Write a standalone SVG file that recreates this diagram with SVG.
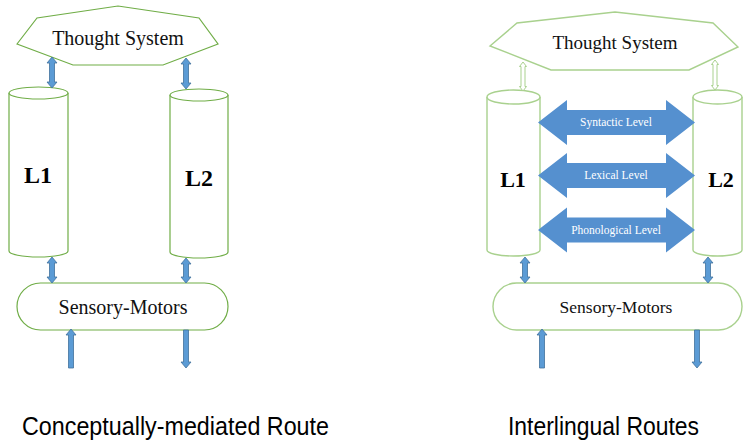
<svg xmlns="http://www.w3.org/2000/svg" width="743" height="443" viewBox="0 0 743 443">
  <style>
    .node-l { fill: #ffffff; stroke: #70ad47; stroke-width: 1.2; }
    .node-r { fill: #ffffff; stroke: #a9d18e; stroke-width: 1.4; }
    .arrow { fill: #5b9bd5; stroke: #41719c; stroke-width: 0.8; }
    .arrow-hollow { fill: #ffffff; stroke: #a9d18e; stroke-width: 1; }
    .big-arrow { fill: #5590cf; stroke: none; }
    .serif { font-family: "Liberation Serif", "Times New Roman", serif; fill: #111111; }
    .lang { font-family: "Liberation Serif", "Times New Roman", serif; font-weight: bold; fill: #000000; }
    .level { font-family: "Liberation Serif", "Times New Roman", serif; font-size: 11.5px; fill: #ffffff; }
    .caption { font-family: "Liberation Sans", Arial, sans-serif; font-size: 25px; fill: #000000; }
  </style>
  <rect width="743" height="443" fill="#ffffff"/>

  <!-- Left panel: conceptually-mediated route -->
  <g id="left-thought">
    <polygon class="node-l" points="17,44 37,18 118,6 199,18 218,44 163,65 73,65"/>
    <text class="serif" x="118" y="45" font-size="20" text-anchor="middle">Thought System</text>
  </g>
  <g id="left-l1">
    <path class="node-l" d="M9,93 L9,251 A29.5,6 0 0 0 68,251 L68,93"/>
    <ellipse class="node-l" cx="38.5" cy="93" rx="29.5" ry="6"/>
    <text class="lang" x="38" y="183" font-size="24" text-anchor="middle">L1</text>
  </g>
  <g id="left-l2">
    <path class="node-l" d="M170,95 L170,252 A29,6 0 0 0 228,252 L228,95"/>
    <ellipse class="node-l" cx="199" cy="95" rx="29" ry="6"/>
    <text class="lang" x="199" y="186" font-size="24" text-anchor="middle">L2</text>
  </g>
  <g id="left-sensory">
    <rect class="node-l" x="17" y="283" width="211" height="47" rx="23.5"/>
    <text class="serif" x="123" y="314" font-size="20" text-anchor="middle">Sensory-Motors</text>
  </g>

  <!-- Right panel: interlingual routes -->
  <g id="right-thought">
    <polygon class="node-r" points="490,46 517,23 615,12 713,23 738,47 689,70 551,70"/>
    <text class="serif" x="615" y="49" font-size="19" text-anchor="middle">Thought System</text>
  </g>
  <g id="right-l1">
    <path class="node-r" d="M487,97 L487,250 A26.5,6 0 0 0 540,250 L540,97"/>
    <ellipse class="node-r" cx="513.5" cy="97" rx="26.5" ry="7"/>
    <text class="lang" x="513" y="187" font-size="22" text-anchor="middle">L1</text>
  </g>
  <g id="right-l2">
    <path class="node-r" d="M693,97 L693,250 A24.5,6 0 0 0 742,250 L742,97"/>
    <ellipse class="node-r" cx="717.5" cy="97" rx="24.5" ry="7"/>
    <text class="lang" x="721" y="187" font-size="22" text-anchor="middle">L2</text>
  </g>
  <g id="right-sensory">
    <rect class="node-r" x="493" y="283" width="249" height="47" rx="23.5"/>
    <text class="serif" x="616" y="313" font-size="17.5" text-anchor="middle">Sensory-Motors</text>
  </g>

  <!-- Connectors -->
  <g id="connectors">
    <!-- left panel -->
    <path class="arrow" d="M52,57 L57,63 L54.5,63 L54.5,82 L57,82 L52,88 L47,82 L49.5,82 L49.5,63 L47,63 Z"/>
    <path class="arrow" d="M186,58 L191,64 L188.5,64 L188.5,83 L191,83 L186,89 L181,83 L183.5,83 L183.5,64 L181,64 Z"/>
    <path class="arrow" d="M52,257 L57,263 L54.5,263 L54.5,277 L57,277 L52,283 L47,277 L49.5,277 L49.5,263 L47,263 Z"/>
    <path class="arrow" d="M186,258 L191,264 L188.5,264 L188.5,277 L191,277 L186,283 L181,277 L183.5,277 L183.5,264 L181,264 Z"/>
    <path class="arrow" d="M71,329 L76,335 L73.5,335 L73.5,368 L68.5,368 L68.5,335 L66,335 Z"/>
    <path class="arrow" d="M183.5,330 L188.5,330 L188.5,362 L191,362 L186,368 L181,362 L183.5,362 Z"/>

    <!-- right panel -->
    <path class="arrow-hollow" d="M523,62 L526.5,66.5 L525,66.5 L525,86.5 L526.5,86.5 L523,91 L519.5,86.5 L521,86.5 L521,66.5 L519.5,66.5 Z"/>
    <path class="arrow-hollow" d="M715,60 L718.5,64.5 L717,64.5 L717,85.5 L718.5,85.5 L715,90 L711.5,85.5 L713,85.5 L713,64.5 L711.5,64.5 Z"/>
    <path class="arrow" d="M525,257 L530,263 L527.5,263 L527.5,277 L530,277 L525,283 L520,277 L522.5,277 L522.5,263 L520,263 Z"/>
    <path class="arrow" d="M708,257 L713,263 L710.5,263 L710.5,277 L713,277 L708,283 L703,277 L705.5,277 L705.5,263 L703,263 Z"/>
    <path class="arrow" d="M542,329 L547,335 L544.5,335 L544.5,368 L539.5,368 L539.5,335 L537,335 Z"/>
    <path class="arrow" d="M694.5,330 L699.5,330 L699.5,362 L702,362 L697,368 L692,362 L694.5,362 Z"/>

    <path class="big-arrow" d="M538,122.5 L567,100 L567,110 L666,110 L666,100 L695,122.5 L666,145 L666,135 L567,135 L567,145 Z"/>
    <text class="level" x="616" y="126" text-anchor="middle">Syntactic Level</text>
    <path class="big-arrow" d="M538,175.5 L567,153 L567,163 L666,163 L666,153 L695,175.5 L666,198 L666,188 L567,188 L567,198 Z"/>
    <text class="level" x="616" y="179" text-anchor="middle">Lexical Level</text>
    <path class="big-arrow" d="M538,230 L567,207.5 L567,217.5 L666,217.5 L666,207.5 L695,230 L666,252.5 L666,242.5 L567,242.5 L567,252.5 Z"/>
    <text class="level" x="616" y="233.5" text-anchor="middle">Phonological Level</text>
  </g>

  <!-- Captions -->
  <text class="caption" x="22" y="435" textLength="307" lengthAdjust="spacingAndGlyphs">Conceptually-mediated Route</text>
  <text class="caption" x="508" y="435" textLength="191" lengthAdjust="spacingAndGlyphs">Interlingual Routes</text>
</svg>
